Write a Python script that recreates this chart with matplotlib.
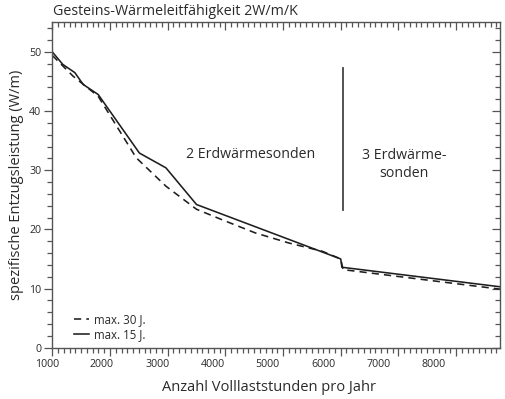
import numpy as np
import matplotlib
matplotlib.use("Agg")
from matplotlib import pyplot as plt
from matplotlib.transforms import ScaledTranslation

plt.rcParams['font.family'] = ['Open Sans', 'DejaVu Sans']

# max. 15 J. (solid)
x_15 = [1000, 1180, 1390, 1535, 1795, 2510, 2970, 3500, 6000, 6020, 8760]
y_15 = [50.0, 47.9, 46.5, 44.5, 42.8, 32.9, 30.4, 24.2, 15.0, 13.6, 10.3]

# max. 30 J. (dashed)
x_30 = [1000, 1360, 1795, 2455, 2970, 3500, 3950, 4520, 5100, 5680, 6000, 6040, 8760]
y_30 = [49.4, 45.9, 42.5, 32.1, 27.3, 23.4, 21.6, 19.4, 17.7, 16.3, 15.0, 13.2, 9.9]

x_ticks = [1000, 2000, 3000, 4000, 5000, 6000, 7000, 8000]
y_ticks = [0, 10, 20, 30, 40, 50]

sep_x = 6045
sep_y = [23.3, 47.2]

txt = '#2a2a2a'
line_c = '#1e1e1e'
spine_c = '#555555'

fig = plt.figure(figsize=(5.06, 3.99), dpi=100)
ax = fig.add_axes([0.1034, 0.1286, 0.8846, 0.8154])

ax.plot(x_30, y_30, color=line_c, lw=1.15, dashes=(4.5, 3.2), label='max. 30 J.')
ax.plot(x_15, y_15, color=line_c, lw=1.15, label='max. 15 J.')
ax.plot([sep_x, sep_x], sep_y, color='#444444', lw=1.3)

ax.text(4440, 32.7, '2 Erdwärmesonden', ha='center', va='center', fontsize=10.2, color=txt)
ax.text(7100, 31.0, '3 Erdwärme-\nsonden', ha='center', va='center', fontsize=10.2,
        color=txt, linespacing=1.3, multialignment='center')

ax.set_xlim(1000, 8760)
ax.set_ylim(0, 55)
ax.set_xticks(x_ticks)
ax.set_xticks(np.arange(1000, 8761, 100), minor=True)
ax.set_yticks(y_ticks)
ax.set_yticks(np.arange(0, 55.1, 2), minor=True)

for s in ax.spines.values():
    s.set_color(spine_c)
    s.set_linewidth(1.0)

ax.tick_params(which='both', colors=spine_c, labelcolor=txt, labelsize=7.7, width=0.9)
ax.tick_params(axis='y', which='both', direction='out', right=True)
ax.tick_params(axis='x', which='both', direction='out', top=True)
ax.tick_params(which='major', length=6)
ax.tick_params(which='minor', length=3.5)
ax.tick_params(axis='x', which='major', pad=2)
ax.tick_params(axis='y', which='major', pad=2)
# top and right ticks point inward
for t in ax.xaxis.get_major_ticks() + ax.xaxis.get_minor_ticks():
    t.tick2line.set_marker(3)
for t in ax.yaxis.get_major_ticks() + ax.yaxis.get_minor_ticks():
    t.tick2line.set_marker(0)

ax.set_xlabel('Anzahl Volllaststunden pro Jahr', fontsize=10.5, color=txt)
ax.xaxis.set_label_coords(0.483, -0.098)
ax.set_ylabel('spezifische Entzugsleistung (W/m)', fontsize=10.5, color=txt, labelpad=4)
fig.text(0.104, 0.972, 'Gesteins-Wärmeleitfähigkeit 2W/m/K', fontsize=10.3, color=txt,
         ha='left', va='center')

leg = ax.legend(loc='lower left', bbox_to_anchor=(0.025, -0.01), frameon=False,
                fontsize=8.3, handlelength=1.3, handletextpad=0.45, labelspacing=0.15,
                labelcolor=txt)

# shift x tick labels slightly left, as in the original figure
for v, lab in zip(x_ticks, ax.get_xticklabels()):
    dx = -(5.6 + 2.43 * (v - 1000) / 1000) / 100
    lab.set_transform(lab.get_transform() + ScaledTranslation(dx, 0, fig.dpi_scale_trans))

fig.savefig('out.png', dpi=100)
